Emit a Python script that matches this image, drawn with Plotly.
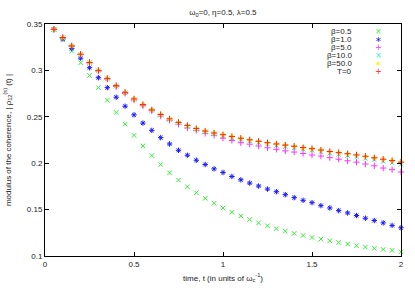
import plotly.graph_objects as go

t = [round(0.05 * i, 2) for i in range(1, 41)]

beta_0_5 = [0.3443, 0.3329, 0.3207, 0.3082, 0.2946, 0.2814, 0.2679, 0.2546, 0.2421, 0.2300,
            0.2186, 0.2082, 0.1986, 0.1896, 0.1818, 0.1746, 0.1682, 0.1621, 0.1568, 0.1518,
            0.1471, 0.1432, 0.1393, 0.1357, 0.1325, 0.1293, 0.1268, 0.1243, 0.1221, 0.1200,
            0.1182, 0.1164, 0.1146, 0.1129, 0.1111, 0.1096, 0.1082, 0.1071, 0.1061, 0.1046]
beta_1_0 = [0.3443, 0.3339, 0.3236, 0.3132, 0.3029, 0.2921, 0.2814, 0.2711, 0.2614, 0.2521,
            0.2432, 0.2354, 0.2275, 0.2207, 0.2139, 0.2086, 0.2032, 0.1986, 0.1939, 0.1900,
            0.1857, 0.1821, 0.1786, 0.1754, 0.1721, 0.1693, 0.1661, 0.1629, 0.1600, 0.1575,
            0.1543, 0.1518, 0.1489, 0.1464, 0.1436, 0.1407, 0.1382, 0.1357, 0.1329, 0.1304]
beta_5_0 = [0.3443, 0.3352, 0.3260, 0.3170, 0.3080, 0.2993, 0.2906, 0.2826, 0.2752, 0.2680,
            0.2620, 0.2565, 0.2508, 0.2462, 0.2420, 0.2380, 0.2353, 0.2321, 0.2300, 0.2270,
            0.2245, 0.2221, 0.2205, 0.2185, 0.2166, 0.2150, 0.2133, 0.2120, 0.2105, 0.2088,
            0.2077, 0.2060, 0.2043, 0.2026, 0.2011, 0.1991, 0.1972, 0.1948, 0.1930, 0.1905]
beta_10_0 = [0.3443, 0.3352, 0.3262, 0.3172, 0.3083, 0.2997, 0.2910, 0.2831, 0.2758, 0.2687,
             0.2626, 0.2570, 0.2518, 0.2471, 0.2432, 0.2397, 0.2364, 0.2336, 0.2314, 0.2295,
             0.2274, 0.2255, 0.2238, 0.2221, 0.2206, 0.2191, 0.2178, 0.2166, 0.2150, 0.2139,
             0.2123, 0.2107, 0.2094, 0.2081, 0.2067, 0.2052, 0.2035, 0.2019, 0.2004, 0.1987]
beta_50_0 = [0.3443, 0.3354, 0.3264, 0.3174, 0.3085, 0.2999, 0.2913, 0.2835, 0.2762, 0.2691,
             0.2630, 0.2573, 0.2523, 0.2476, 0.2438, 0.2405, 0.2371, 0.2344, 0.2323, 0.2305,
             0.2285, 0.2267, 0.2250, 0.2234, 0.2219, 0.2205, 0.2193, 0.2180, 0.2166, 0.2155,
             0.2140, 0.2124, 0.2112, 0.2100, 0.2087, 0.2072, 0.2056, 0.2041, 0.2026, 0.2010]
T_0 = [0.3443, 0.3354, 0.3264, 0.3175, 0.3086, 0.3000, 0.2914, 0.2836, 0.2764, 0.2693,
       0.2632, 0.2575, 0.2525, 0.2478, 0.2440, 0.2407, 0.2373, 0.2346, 0.2325, 0.2307,
       0.2287, 0.2269, 0.2252, 0.2236, 0.2221, 0.2207, 0.2195, 0.2183, 0.2168, 0.2157,
       0.2142, 0.2126, 0.2114, 0.2102, 0.2089, 0.2075, 0.2058, 0.2043, 0.2028, 0.2012]

series = [
    ("β=0.5", beta_0_5, "#33ee33", "x-thin", "×"),
    ("β=1.0", beta_1_0, "#1a1aff", "asterisk", "∗"),
    ("β=5.0", beta_5_0, "#ff33ff", "cross-thin", "+"),
    ("β=10.0", beta_10_0, "#22e8e8", "x-thin", "×"),
    ("β=50.0", beta_50_0, "#f0f000", "asterisk", "∗"),
    ("T=0", T_0, "#ff2222", "cross-thin", "+"),
]

FONT = "Liberation Sans, Arial, sans-serif"
fig = go.Figure()
for name, ys, col, sym, _ in series:
    fig.add_trace(go.Scatter(
        x=t, y=ys, mode="markers", name=name, showlegend=False, cliponaxis=False,
        marker=dict(symbol=sym, size=4.5, color=col, line=dict(color=col, width=1)),
    ))

annotations = []
y0 = 0.966
dy = 0.0344
for i, (name, _, col, _, glyph) in enumerate(series):
    annotations.append(dict(xref="paper", yref="paper", x=0.869, y=y0 - i * dy,
                            text=name, showarrow=False, xanchor="right", yanchor="middle",
                            font=dict(family=FONT, size=8, color="#222")))
    annotations.append(dict(xref="paper", yref="paper", x=0.937, y=y0 - i * dy,
                            text=glyph, showarrow=False, xanchor="center", yanchor="middle",
                            font=dict(family="DejaVu Sans", size=8, color=col)))

fig.update_layout(
    template="none",
    width=415, height=291,
    margin=dict(l=45, r=14, t=24, b=35),
    paper_bgcolor="white", plot_bgcolor="white",
    font=dict(family=FONT, size=8, color="#222"),
    title=dict(text="ω<sub>0</sub>=0, η=0.5, λ=0.5", x=0.537, xanchor="center",
               y=0.958, yanchor="middle", font=dict(size=8)),
    annotations=annotations,
    xaxis=dict(range=[0, 2], tickmode="linear", tick0=0, dtick=0.5, automargin=False,
               ticks="inside", ticklen=4, tickcolor="black", showline=True, linecolor="black",
               linewidth=1, mirror="ticks", showgrid=False, zeroline=False,
               title=dict(text="time, t (in units of ω<sub>c</sub><sup>-1</sup>)", standoff=7,
                          font=dict(size=8))),
    yaxis=dict(range=[0.1, 0.35], tickmode="linear", tick0=0.1, dtick=0.05, automargin=False,
               ticks="inside", ticklen=4, tickcolor="black", showline=True, linecolor="black",
               linewidth=1, mirror="ticks", showgrid=False, zeroline=False,
               title=dict(text="modulus of the coherence, | ρ<sub>12</sub><sup>(s)</sup> (t) |",
                          standoff=14, font=dict(size=8))),
)

fig.write_html("out.html", config={"displayModeBar": False},
               post_script="document.body.style.margin='0';document.body.style.padding='0';")
